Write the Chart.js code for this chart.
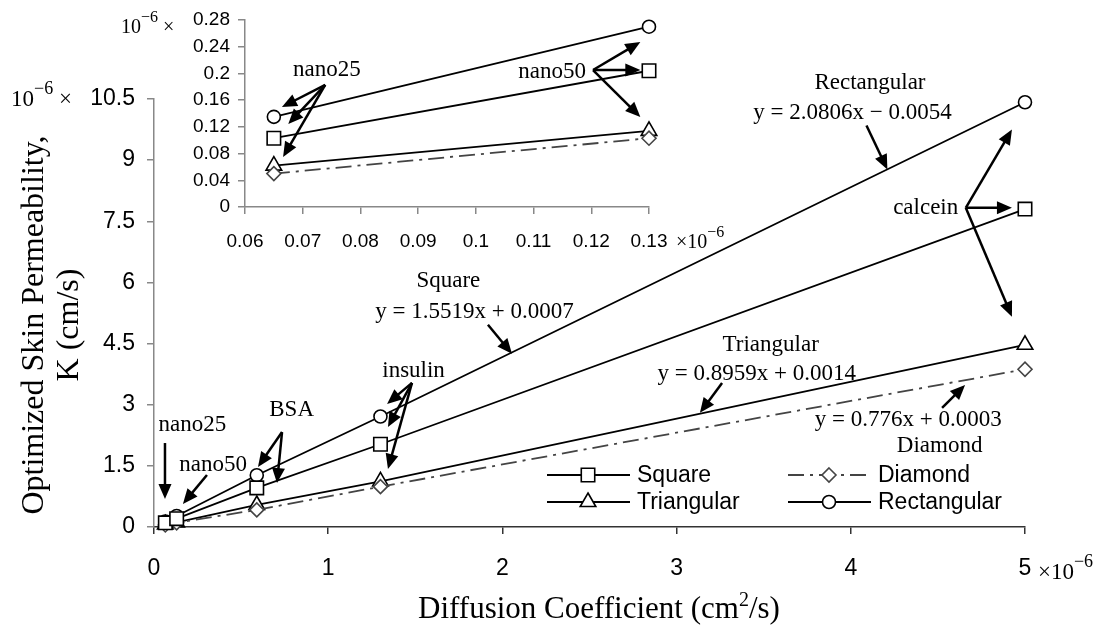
<!DOCTYPE html>
<html>
<head>
<meta charset="utf-8">
<script src="https://cdn.jsdelivr.net/npm/chart.js@4.4.1/dist/chart.umd.min.js"></script>
<style>
html, body { margin: 0; padding: 0; background: #fff; }
#wrap { position: relative; width: 1115px; height: 630px; }
#wrap canvas { position: absolute; left: 0; top: 0; }
</style>
</head>
<body>
<div id="wrap">
  <canvas id="mainChart" width="1115" height="630"></canvas>
  <canvas id="insetChart" width="1115" height="630"></canvas>
</div>
<script>
// values in units of 1e-6
var molecules   = ['nano25', 'nano50', 'BSA', 'insulin', 'calcein'];
var diffusion   = [0.065, 0.13, 0.59, 1.30, 5.0];
var square      = [0.103, 0.204, 0.96, 2.03, 7.80];
var diamond     = [0.050, 0.103, 0.42, 0.99, 3.87];
var triangular  = [0.062, 0.114, 0.54, 1.12, 4.47];
var rectangular = [0.135, 0.270, 1.27, 2.71, 10.42];

var mainXTicks  = [0, 1, 2, 3, 4, 5];
var mainYTicks  = [0, 1.5, 3, 4.5, 6, 7.5, 9, 10.5];
var insetXTicks = [0.06, 0.07, 0.08, 0.09, 0.1, 0.11, 0.12, 0.13];
var insetYTicks = [0, 0.04, 0.08, 0.12, 0.16, 0.2, 0.24, 0.28];

var SANS = '"Liberation Sans", Arial, sans-serif';
var SERIF = '"Liberation Serif", "Times New Roman", serif';

// series look
var seriesDefs = [
    { label: 'Square',      values: square,      style: 'rect',     radius: 9.5, color: '#000', dash: [] },
    { label: 'Diamond',     values: diamond,     style: 'rectRot',  radius: 7,   color: '#444', dash: [16, 6, 3, 6] },
    { label: 'Triangular',  values: triangular,  style: 'triangle', radius: 9,   color: '#000', dash: [] },
    { label: 'Rectangular', values: rectangular, style: 'circle',   radius: 6.5, color: '#000', dash: [] }
];

function buildDatasets(count) {
    return seriesDefs.map(function (s) {
        return {
            label: s.label,
            data: diffusion.slice(0, count).map(function (x, i) { return { x: x, y: s.values[i] }; }),
            showLine: true,
            borderColor: s.color,
            borderWidth: 1.8,
            borderDash: s.dash,
            pointStyle: s.style,
            pointRadius: s.radius,
            pointBorderWidth: 1.6,
            pointBorderColor: s.color,
            pointBackgroundColor: '#fff',
            clip: false
        };
    });
}

// text / arrow helpers
function richText(ctx, x, y, parts, align) {
    var total = 0;
    parts.forEach(function (p) { ctx.font = p[1] + 'px ' + SERIF; total += ctx.measureText(p[0]).width; });
    var cx = align === 'center' ? x - total / 2 : x;
    ctx.textAlign = 'left';
    ctx.textBaseline = 'alphabetic';
    parts.forEach(function (p) {
        ctx.font = p[1] + 'px ' + SERIF;
        ctx.fillText(p[0], cx, y - (p[2] || 0));
        cx += ctx.measureText(p[0]).width;
    });
}

function arrow(ctx, x1, y1, x2, y2) {
    var a = Math.atan2(y2 - y1, x2 - x1), L = 15, W = 6.5;
    var c = Math.cos(a), s = Math.sin(a);
    ctx.beginPath();
    ctx.moveTo(x1, y1);
    ctx.lineTo(x2 - L * 0.7 * c, y2 - L * 0.7 * s);
    ctx.stroke();
    ctx.beginPath();
    ctx.moveTo(x2, y2);
    ctx.lineTo(x2 - L * c + W * s, y2 - L * s - W * c);
    ctx.lineTo(x2 - L * c - W * s, y2 - L * s + W * c);
    ctx.closePath();
    ctx.fill();
}

function marker(ctx, style, r, x, y) {
    ctx.beginPath();
    if (style === 'rect') {
        var h = r * Math.SQRT1_2;
        ctx.rect(x - h, y - h, 2 * h, 2 * h);
    } else if (style === 'rectRot') {
        ctx.moveTo(x, y - r); ctx.lineTo(x + r, y); ctx.lineTo(x, y + r); ctx.lineTo(x - r, y); ctx.closePath();
    } else if (style === 'triangle') {
        ctx.moveTo(x, y - r);
        ctx.lineTo(x + r * 0.866, y + r * 0.5);
        ctx.lineTo(x - r * 0.866, y + r * 0.5);
        ctx.closePath();
    } else {
        ctx.arc(x, y, r, 0, Math.PI * 2);
    }
    ctx.fill();
    ctx.stroke();
}

function drawNotes(chart, notes, arrows) {
    var ctx = chart.ctx, xs = chart.scales.x, ys = chart.scales.y;
    ctx.save();
    ctx.fillStyle = '#000';
    ctx.font = '23px ' + SERIF;
    ctx.textAlign = 'center';
    ctx.textBaseline = 'middle';
    notes.forEach(function (n) {
        ctx.fillText(n[0], xs.getPixelForValue(n[1]), ys.getPixelForValue(n[2]));
    });
    ctx.strokeStyle = '#000';
    ctx.lineWidth = 2.5;
    arrows.forEach(function (a) {
        arrow(ctx, xs.getPixelForValue(a[0]), ys.getPixelForValue(a[1]),
                   xs.getPixelForValue(a[2]), ys.getPixelForValue(a[3]));
    });
    ctx.restore();
}

// annotations, in data units: [text, x, y] and [x1, y1, x2, y2]
var mainNotes = [
    ['Rectangular', 4.11, 10.90],
    ['y = 2.0806x \u2212 0.0054', 4.01, 10.16],
    ['calcein', 4.43, 7.83],
    ['Square', 1.69, 6.04],
    ['y = 1.5519x + 0.0007', 1.84, 5.28],
    ['insulin', 1.49, 3.83],
    ['Triangular', 3.54, 4.47],
    ['y = 0.8959x + 0.0014', 3.46, 3.76],
    ['y = 0.776x + 0.0003', 4.33, 2.63],
    ['Diamond', 4.51, 1.99],
    ['BSA', 0.79, 2.87],
    ['nano25', 0.22, 2.50],
    ['nano50', 0.34, 1.52]
];
var mainArrows = [
    [4.09, 9.85, 4.21, 8.77],
    [4.66, 7.83, 4.925, 9.75],
    [4.66, 7.83, 4.925, 7.83],
    [4.66, 7.83, 4.925, 5.16],
    [1.917, 4.96, 2.055, 4.25],
    [1.481, 3.535, 1.338, 3.02],
    [1.481, 3.535, 1.343, 2.455],
    [1.481, 3.535, 1.343, 1.424],
    [3.261, 3.535, 3.134, 2.80],
    [4.524, 2.92, 4.656, 3.486],
    [0.735, 2.33, 0.597, 1.473],
    [0.735, 2.33, 0.706, 1.08],
    [0.063, 2.06, 0.063, 0.687],
    [0.304, 1.277, 0.166, 0.565]
];
var insetNotes = [
    ['nano25', 0.0742, 0.205],
    ['nano50', 0.1132, 0.202]
];
var insetArrows = [
    [0.0739, 0.1827, 0.0664, 0.1497],
    [0.0739, 0.1827, 0.0675, 0.1243],
    [0.0739, 0.1827, 0.0666, 0.0749],
    [0.1203, 0.2051, 0.1285, 0.247],
    [0.1203, 0.2051, 0.1285, 0.2051],
    [0.1203, 0.2051, 0.1285, 0.1348]
];

function fmt(v) { return String(+v.toFixed(2)); }

var mainDecor = {
    id: 'mainDecor',
    afterDatasetsDraw: function (chart) {
        var ctx = chart.ctx, area = chart.chartArea;
        ctx.save();
        ctx.fillStyle = '#000';

        // y title (two lines)
        ctx.save();
        ctx.translate(43, (area.top + area.bottom) / 2 + 12);
        ctx.rotate(-Math.PI / 2);
        ctx.font = '32px ' + SERIF;
        ctx.textAlign = 'center';
        ctx.textBaseline = 'alphabetic';
        ctx.fillText('Optimized Skin Permeability,', 0, 0);
        ctx.fillText('K (cm/s)', 0, 35);
        ctx.restore();

        // x title
        richText(ctx, 599, 618, [['Diffusion Coefficient (cm', 31], ['2', 20, 12], ['/s)', 31]], 'center');

        // exponent labels
        richText(ctx, 11, 106, [['10', 23], ['\u22126', 18, 12], [' \u00d7', 23]]);
        richText(ctx, 1038, 579, [['\u00d710', 23], ['\u22126', 18, 12]]);

        ctx.restore();

        drawNotes(chart, mainNotes, mainArrows);

        // legend
        var rows = [[0, 1], [2, 3]];
        var colX = [547, 788], rowY = [475, 502];
        ctx.save();
        rows.forEach(function (row, ri) {
            row.forEach(function (si, ci) {
                var s = seriesDefs[si];
                var x0 = colX[ci], y0 = rowY[ri];
                ctx.strokeStyle = s.color;
                ctx.lineWidth = 1.8;
                ctx.setLineDash(s.dash);
                ctx.beginPath();
                ctx.moveTo(x0, y0);
                ctx.lineTo(x0 + 83, y0);
                ctx.stroke();
                ctx.setLineDash([]);
                ctx.fillStyle = '#fff';
                ctx.lineWidth = 1.6;
                marker(ctx, s.style, s.radius, x0 + 41, y0);
                ctx.fillStyle = '#000';
                ctx.font = '23px ' + SANS;
                ctx.textAlign = 'left';
                ctx.textBaseline = 'middle';
                ctx.fillText(s.label, x0 + 90, y0 + 1);
            });
        });
        ctx.restore();
    }
};

var insetDecor = {
    id: 'insetDecor',
    afterDatasetsDraw: function (chart) {
        var ctx = chart.ctx;
        ctx.save();
        ctx.fillStyle = '#000';
        richText(ctx, 121, 33, [['10', 20], ['\u22126', 16, 11], [' \u00d7', 20]]);
        richText(ctx, 676, 248, [['\u00d710', 20], ['\u22126', 16, 11]]);
        ctx.restore();
        drawNotes(chart, insetNotes, insetArrows);
    }
};

function axis(opts) {
    return {
        type: 'linear',
        min: opts.ticks[0],
        max: opts.ticks[opts.ticks.length - 1],
        afterBuildTicks: function (s) { s.ticks = opts.ticks.map(function (v) { return { value: v }; }); },
        afterFit: opts.fit,
        border: { display: true, color: opts.color, width: 1.5 },
        grid: { display: true, drawOnChartArea: false, drawTicks: true, tickLength: 7, color: opts.color, lineWidth: 1.5 },
        ticks: {
            font: { family: SANS, size: opts.size },
            color: '#000',
            padding: opts.pad,
            autoSkip: false,
            maxRotation: 0,
            callback: fmt
        }
    };
}

new Chart(document.getElementById('mainChart'), {
    type: 'scatter',
    data: { datasets: buildDatasets(molecules.length) },
    options: {
        responsive: false,
        animation: false,
        events: [],
        layout: { padding: { left: 0, top: 99, right: 90, bottom: 0 } },
        plugins: { legend: { display: false }, tooltip: { enabled: false } },
        scales: {
            x: axis({ ticks: mainXTicks, color: '#333', size: 23, pad: 21, fit: function (s) { s.height = 103; } }),
            y: axis({ ticks: mainYTicks, color: '#888', size: 23, pad: 12, fit: function (s) { s.width = 154; } })
        }
    },
    plugins: [mainDecor]
});

new Chart(document.getElementById('insetChart'), {
    type: 'scatter',
    data: { datasets: buildDatasets(2) },
    options: {
        responsive: false,
        animation: false,
        events: [],
        layout: { padding: { left: 0, top: 20, right: 466, bottom: 373 } },
        plugins: { legend: { display: false }, tooltip: { enabled: false } },
        scales: {
            x: axis({ ticks: insetXTicks, color: '#888', size: 19, pad: 16, fit: function (s) { s.height = 50; } }),
            y: axis({ ticks: insetYTicks, color: '#888', size: 19, pad: 8, fit: function (s) { s.width = 245; } })
        }
    },
    plugins: [insetDecor]
});
</script>
</body>
</html>
